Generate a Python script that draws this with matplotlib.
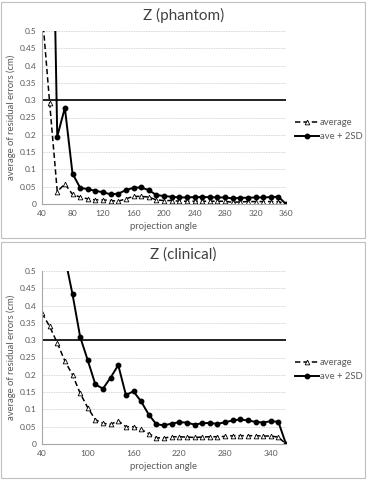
import matplotlib
matplotlib.use('Agg')
import matplotlib.pyplot as plt
from matplotlib.patches import Rectangle

plt.rcParams['font.family'] = ['Lato', 'DejaVu Sans']

# projection angles (category axis, step 10)
angles = list(range(40, 361, 10))

# Z (phantom)
phantom_avg = [0.56, 0.293, 0.036, 0.058, 0.028, 0.02, 0.015, 0.012, 0.012, 0.01, 0.008,
               0.015, 0.022, 0.022, 0.02, 0.012, 0.01, 0.01, 0.008, 0.008, 0.008, 0.008,
               0.008, 0.008, 0.008, 0.005, 0.006, 0.007, 0.007, 0.007, 0.007, 0.007, 0.0]
phantom_2sd = [1.8, 1.4, 0.195, 0.278, 0.088, 0.047, 0.043, 0.038, 0.034, 0.028, 0.03,
               0.04, 0.047, 0.048, 0.04, 0.026, 0.023, 0.021, 0.019, 0.019, 0.02, 0.02,
               0.02, 0.019, 0.019, 0.016, 0.018, 0.018, 0.019, 0.019, 0.02, 0.021, 0.0]

# Z (clinical)
clinical_avg = [0.378, 0.34, 0.292, 0.24, 0.2, 0.147, 0.105, 0.07, 0.06, 0.057, 0.067,
                0.05, 0.05, 0.042, 0.03, 0.018, 0.017, 0.021, 0.021, 0.02, 0.019, 0.02,
                0.021, 0.021, 0.022, 0.024, 0.024, 0.024, 0.024, 0.023, 0.023, 0.02, 0.0]
clinical_2sd = [0.8, 0.72, 0.63, 0.54, 0.433, 0.31, 0.242, 0.172, 0.16, 0.192, 0.228,
                0.142, 0.152, 0.123, 0.085, 0.057, 0.054, 0.059, 0.063, 0.062, 0.056, 0.06,
                0.061, 0.058, 0.063, 0.068, 0.071, 0.068, 0.064, 0.062, 0.066, 0.064, 0.0]

threshold = 0.3
yticks = [0, 0.05, 0.1, 0.15, 0.2, 0.25, 0.3, 0.35, 0.4, 0.45, 0.5]
ytick_labels = ['0', '0.05', '0.1', '0.15', '0.2', '0.25', '0.3', '0.35', '0.4', '0.45', '0.5']

panels = [
    ('Z (phantom)', phantom_avg, phantom_2sd, list(range(40, 361, 40))),
    ('Z (clinical)', clinical_avg, clinical_2sd, list(range(40, 341, 60))),
]

W, H = 367, 480
fig = plt.figure(figsize=(W / 100, H / 100), dpi=100)
grey = '#595959'

for i, (title, avg, sd2, xticks) in enumerate(panels):
    off = i * 240
    # chart border
    fig.patches.append(Rectangle((1 / W, 1 - (off + 238) / H), 364 / W, 236 / H,
                                 transform=fig.transFigure, fill=False,
                                 edgecolor='#bfbfbf', lw=0.8))
    ax = fig.add_axes([42 / W, 1 - (off + 204) / H, 244 / W, 173 / H])
    ax.plot(angles, avg, color='black', lw=1.1, ls=(0, (3.5, 2)), marker='^',
            ms=3.4, mfc='white', mec='black', mew=0.6, label='average')
    ax.plot(angles, sd2, color='black', lw=1.4, marker='o', ms=3.2,
            label='ave + 2SD')
    ax.axhline(threshold, color='black', lw=1.2)

    ax.set_xlim(40, 360)
    ax.set_ylim(0, 0.5)
    ax.set_xticks(xticks)
    ax.set_yticks(yticks)
    ax.set_yticklabels(ytick_labels)
    ax.tick_params(labelsize=6, colors=grey, length=0, pad=4)
    ax.grid(axis='y', color='#c8c8c8', lw=0.6, ls=(0, (1, 1)))
    ax.set_axisbelow(True)
    for s in ['top', 'right']:
        ax.spines[s].set_visible(False)
    for s in ['left', 'bottom']:
        ax.spines[s].set_color('#a6a6a6')
        ax.spines[s].set_linewidth(0.8)

    ax.set_xlabel('projection angle', fontsize=6.8, color=grey, labelpad=4)
    ax.set_ylabel('average of residual errors (cm)', fontsize=6.8, color=grey, labelpad=3)
    fig.text(0.5, 1 - (off + 15) / H, title, ha='center', va='center',
             fontsize=11, color='#404040')
    ax.legend(loc='center left', bbox_to_anchor=(1.0, 0.43), frameon=False,
              fontsize=6.8, handlelength=2.6, handletextpad=0.1,
              labelspacing=0.5, labelcolor=grey)

fig.savefig('out.png', dpi=100)
